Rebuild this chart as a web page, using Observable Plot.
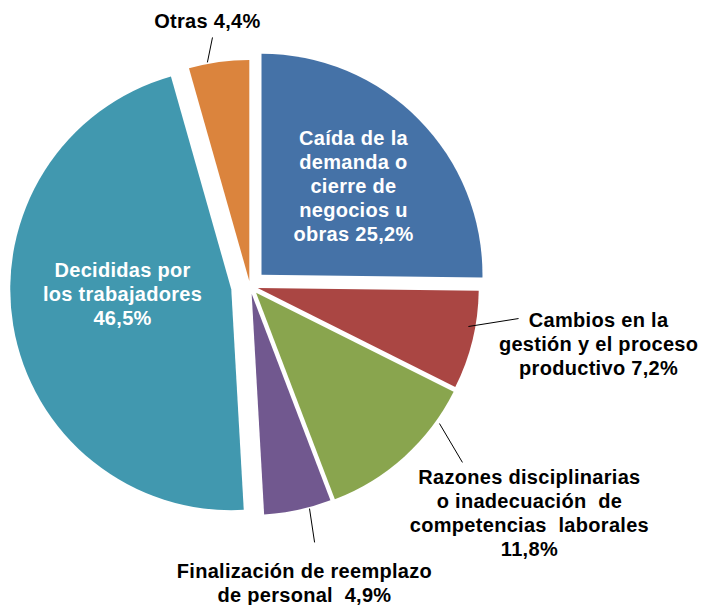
<!DOCTYPE html>
<html>
<head>
<meta charset="utf-8">
<script src="https://cdn.jsdelivr.net/npm/d3@7"></script>
<script src="https://cdn.jsdelivr.net/npm/@observablehq/plot@0.6"></script>
<style>
  html, body { margin: 0; padding: 0; background: #ffffff; }
  #chart svg { display: block; }
</style>
</head>
<body>
<div id="chart"></div>
<script>
// ---- data ----
const categories = [
  "Caída de la demanda o cierre de negocios u obras",
  "Cambios en la gestión y el proceso productivo",
  "Razones disciplinarias o inadecuación de competencias laborales",
  "Finalización de reemplazo de personal",
  "Decididas por los trabajadores",
  "Otras"
];
const values = [25.2, 7.2, 11.8, 4.9, 46.5, 4.4];
const labelTexts = [
  "Caída de la\ndemanda o\ncierre de\nnegocios u\nobras 25,2%",
  "Cambios en la\ngestión y el proceso\nproductivo 7,2%",
  "Razones disciplinarias\no inadecuación  de\ncompetencias  laborales\n11,8%",
  "Finalización de reemplazo\nde personal  4,9%",
  "Decididas por\nlos trabajadores\n46,5%",
  "Otras 4,4%"
];

// ---- styling / layout config ----
const colors = ["#4572A7", "#AA4643", "#89A54E", "#71588F", "#4198AF", "#DB843D"];
const explode = [0.073, 0.036, 0.041, 0.036, 0.086, 0.023];   // in radius units
const labelInside = [true, false, false, false, true, false];
const labelX = [0.466, 1.575, 1.262, 0.244, -0.579, -0.195];
const labelY = [-0.457, 0.258, 1.020, 1.337, 0.032, -1.204];
const leaderX1 = [null, 0.986, 0.855, 0.267, null, -0.195];
const leaderY1 = [null, 0.181, 0.620, 1.005, null, -1.014];
const leaderX2 = [null, 1.213, 0.959, 0.290, null, -0.172];
const leaderY2 = [null, 0.145, 0.796, 1.158, null, -1.127];

const W = 702, H = 605, CX = 250, CY = 286, R = 221;

const pie = d3.pie().sort(null).value(d => d)(values);
const rows = categories.map((c, i) => ({
  category: c, value: values[i], label: labelTexts[i], color: colors[i],
  inside: labelInside[i],
  lx: labelX[i], ly: labelY[i],
  x1: leaderX1[i], y1: leaderY1[i], x2: leaderX2[i], y2: leaderY2[i],
  arc: pie[i], explode: explode[i]
}));

function pieSlices(index, scales) {
  const g = d3.create("svg:g");
  const rpx = scales.x(1) - scales.x(0);
  const arcGen = d3.arc().innerRadius(0).outerRadius(rpx);
  rows.forEach(d => {
    const mid = (d.arc.startAngle + d.arc.endAngle) / 2;
    const cx = scales.x(Math.sin(mid) * d.explode);
    const cy = scales.y(-Math.cos(mid) * d.explode);
    g.append("path")
      .attr("transform", `translate(${cx},${cy})`)
      .attr("d", arcGen(d.arc))
      .attr("fill", d.color);
  });
  return g.node();
}

const textStyle = {
  fontFamily: "'Liberation Sans', Arial, sans-serif",
  fontSize: 20,
  fontWeight: "bold",
  lineHeight: 1.2,
  textAnchor: "middle"
};

const chart = Plot.plot({
  width: W,
  height: H,
  margin: 0,
  style: { background: "#ffffff", overflow: "visible" },
  x: { domain: [-CX / R, (W - CX) / R], range: [0, W], axis: null },
  y: { domain: [-CY / R, (H - CY) / R], range: [0, H], axis: null },
  marks: [
    pieSlices,
    Plot.link(rows.filter(d => d.x1 != null), {
      x1: "x1", y1: "y1", x2: "x2", y2: "y2",
      stroke: "#000", strokeWidth: 1
    }),
    Plot.text(rows, {
      x: "lx", y: "ly", text: "label",
      fill: d => d.inside ? "#ffffff" : "#000000",
      ...textStyle
    })
  ]
});
chart.querySelectorAll("text").forEach(t => t.setAttribute("letter-spacing", "0.3"));
chart.querySelectorAll("text tspan").forEach(t => t.setAttribute("xml:space", "preserve"));
document.getElementById("chart").appendChild(chart);
</script>
</body>
</html>
